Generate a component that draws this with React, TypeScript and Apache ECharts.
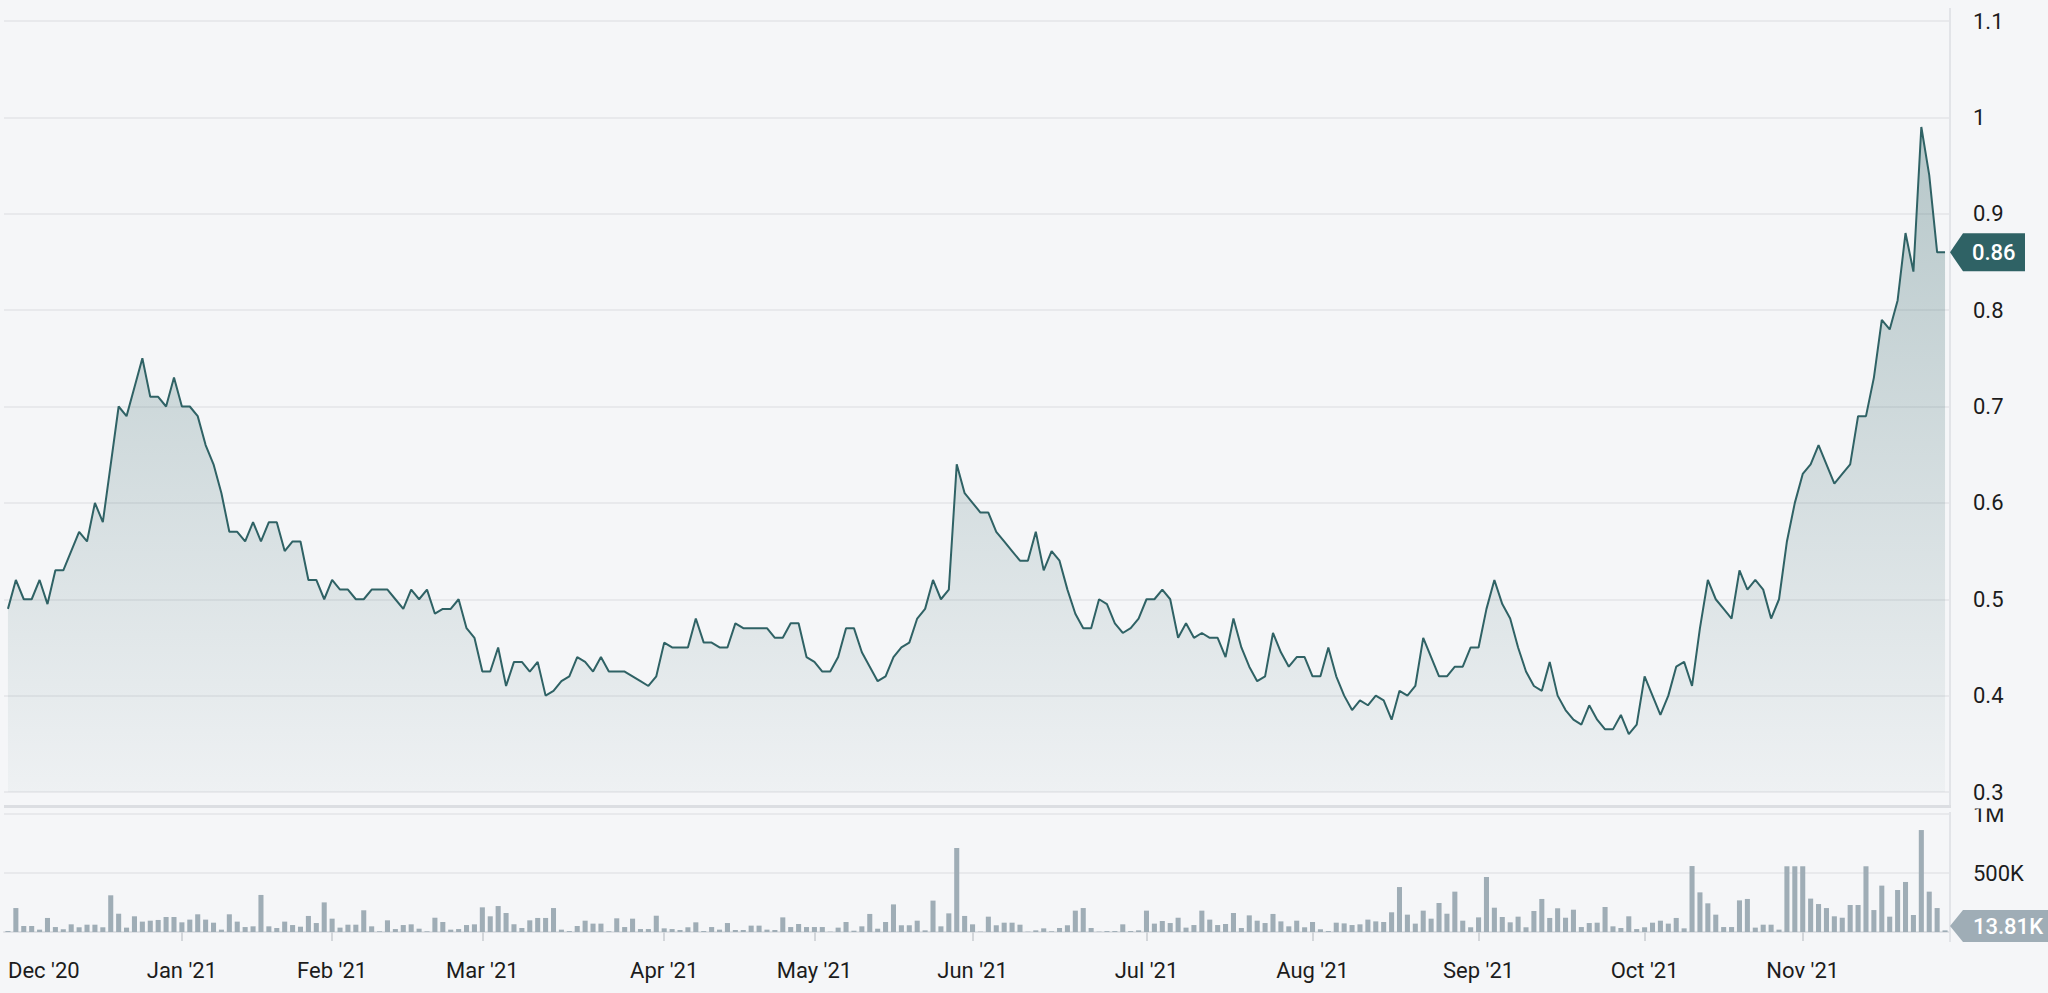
import React, { useEffect, useRef } from "react";
import * as echarts from "echarts";

// ---- data ----
const START_DATE = "2020-12-01";
const END_DATE = "2021-11-26";
const HOLIDAYS = [
  "2020-12-25", "2021-01-01", "2021-01-18", "2021-02-15", "2021-04-02", "2021-04-05",
  "2021-04-26", "2021-05-31", "2021-07-05", "2021-08-02", "2021-09-06", "2021-10-11", "2021-11-25",
];
const MONTH_NAMES = ["Jan", "Feb", "Mar", "Apr", "May", "Jun", "Jul", "Aug", "Sep", "Oct", "Nov", "Dec"];

const PRICE = [
  0.49, 0.52, 0.50, 0.50, 0.52, 0.495, 0.53, 0.53, 0.55, 0.57,
  0.56, 0.60, 0.58, 0.64, 0.70, 0.69, 0.72, 0.75, 0.71, 0.71,
  0.70, 0.73, 0.70, 0.70, 0.69, 0.66, 0.64, 0.61, 0.57, 0.57,
  0.56, 0.58, 0.56, 0.58, 0.58, 0.55, 0.56, 0.56, 0.52, 0.52,
  0.50, 0.52, 0.51, 0.51, 0.50, 0.50, 0.51, 0.51, 0.51, 0.50,
  0.49, 0.51, 0.50, 0.51, 0.485, 0.49, 0.49, 0.50, 0.47, 0.46,
  0.425, 0.425, 0.45, 0.41, 0.435, 0.435, 0.425, 0.435, 0.40, 0.405,
  0.415, 0.42, 0.44, 0.435, 0.425, 0.44, 0.425, 0.425, 0.425, 0.42,
  0.415, 0.41, 0.42, 0.455, 0.45, 0.45, 0.45, 0.48, 0.455, 0.455,
  0.45, 0.45, 0.475, 0.47, 0.47, 0.47, 0.47, 0.46, 0.46, 0.475,
  0.475, 0.44, 0.435, 0.425, 0.425, 0.44, 0.47, 0.47, 0.445, 0.43,
  0.415, 0.42, 0.44, 0.45, 0.455, 0.48, 0.49, 0.52, 0.50, 0.51,
  0.64, 0.61, 0.60, 0.59, 0.59, 0.57, 0.56, 0.55, 0.54, 0.54,
  0.57, 0.53, 0.55, 0.54, 0.51, 0.485, 0.47, 0.47, 0.50, 0.495,
  0.475, 0.465, 0.47, 0.48, 0.50, 0.50, 0.51, 0.50, 0.46, 0.475,
  0.46, 0.465, 0.46, 0.46, 0.44, 0.48, 0.45, 0.43, 0.415, 0.42,
  0.465, 0.445, 0.43, 0.44, 0.44, 0.42, 0.42, 0.45, 0.42, 0.40,
  0.385, 0.395, 0.39, 0.40, 0.395, 0.375, 0.405, 0.40, 0.41, 0.46,
  0.44, 0.42, 0.42, 0.43, 0.43, 0.45, 0.45, 0.49, 0.52, 0.495,
  0.48, 0.45, 0.425, 0.41, 0.405, 0.435, 0.40, 0.385, 0.375, 0.37,
  0.39, 0.375, 0.365, 0.365, 0.38, 0.36, 0.37, 0.42, 0.40, 0.38,
  0.40, 0.43, 0.435, 0.41, 0.47, 0.52, 0.50, 0.49, 0.48, 0.53,
  0.51, 0.52, 0.51, 0.48, 0.50, 0.56, 0.60, 0.63, 0.64, 0.66,
  0.64, 0.62, 0.63, 0.64, 0.69, 0.69, 0.73, 0.79, 0.78, 0.81,
  0.88, 0.84, 0.99, 0.94, 0.86, 0.86,
];

// volume in thousands of shares
const VOLUME_K = [
  8, 203, 51, 51, 20, 119, 42, 23, 65, 40,
  62, 62, 40, 311, 155, 37, 133, 88, 96, 102,
  127, 127, 82, 105, 150, 105, 79, 20, 150, 88,
  42, 48, 314, 48, 34, 88, 59, 45, 136, 76,
  251, 113, 37, 62, 62, 184, 48, 6, 99, 25,
  59, 65, 28, 6, 121, 85, 20, 25, 59, 65,
  209, 133, 220, 161, 65, 34, 99, 119, 119, 203,
  20, 8, 51, 96, 71, 71, 6, 116, 42, 113,
  25, 25, 138, 31, 25, 17, 40, 82, 8, 42,
  20, 76, 17, 17, 54, 54, 20, 17, 124, 42,
  68, 42, 42, 42, 3, 37, 85, 11, 48, 153,
  28, 85, 234, 57, 57, 96, 14, 266, 48, 158,
  712, 136, 65, 3, 130, 57, 79, 79, 62, 3,
  14, 31, 6, 34, 57, 181, 203, 34, 3, 8,
  8, 65, 8, 14, 181, 71, 93, 76, 121, 37,
  59, 181, 105, 59, 68, 161, 34, 141, 96, 76,
  153, 90, 48, 96, 40, 85, 23, 8, 79, 73,
  59, 65, 105, 90, 85, 167, 381, 147, 71, 181,
  113, 246, 155, 342, 96, 40, 124, 466, 206, 127,
  82, 130, 40, 178, 280, 119, 201, 121, 189, 42,
  76, 79, 212, 48, 34, 133, 25, 40, 79, 96,
  71, 119, 31, 559, 336, 243, 147, 42, 42, 268,
  280, 37, 62, 62, 20, 557, 557, 557, 283, 237,
  203, 133, 121, 229, 229, 557, 186, 393, 130, 356,
  424, 144, 864, 342, 203, 13.81,
];

const PRICE_AXIS = { min: 0.3, max: 1.1, interval: 0.1 };
const VOLUME_AXIS = { min: 0, max: 1000000, interval: 500000 };

// ---- style / layout ----
const BG = "#f5f6f8";
const TEAL = "#2f6265";
const VOL_COLOR = "#9fadb6";
const GRID_LINE = "#e3e5e9";
const TEXT = "#1c1c1c";
const FONT = "Roboto";
const GRID_LEFT = 4;
const GRID_RIGHT_EDGE = 1949;
const W = 2048;
const H = 993;

function tradingDays(): string[] {
  const out: string[] = [];
  const d = new Date(START_DATE + "T00:00:00Z");
  const end = new Date(END_DATE + "T00:00:00Z");
  while (d.getTime() <= end.getTime()) {
    const wd = d.getUTCDay();
    const s = d.toISOString().slice(0, 10);
    if (wd !== 0 && wd !== 6 && HOLIDAYS.indexOf(s) < 0) out.push(s);
    d.setUTCDate(d.getUTCDate() + 1);
  }
  return out;
}

const DATES = tradingDays();

function isMonthStart(i: number): boolean {
  return i === 0 || DATES[i].slice(0, 7) !== DATES[i - 1].slice(0, 7);
}

function monthLabel(v: string): string {
  const m = parseInt(v.slice(5, 7), 10) - 1;
  return MONTH_NAMES[m] + " '" + v.slice(2, 4);
}

function volLabel(v: number): string {
  if (v >= 1000000) return v / 1000000 + "M";
  if (v >= 1000) return v / 1000 + "K";
  return String(v);
}

export default function App() {
  const ref = useRef<HTMLDivElement>(null);

  useEffect(() => {
    if (!ref.current) return;
    const chart = echarts.init(ref.current, null, { renderer: "svg" });
    const volume = VOLUME_K.map((v) => v * 1000);
    const lastPrice = PRICE[PRICE.length - 1];
    const lastVol = volume[volume.length - 1];

    const option: any = {
      animation: false,
      backgroundColor: BG,
      textStyle: { fontFamily: FONT },
      grid: [
        { left: GRID_LEFT, right: W - GRID_RIGHT_EDGE, top: 21, height: 771 },
        { left: GRID_LEFT, right: W - GRID_RIGHT_EDGE, top: 814, height: 118 },
      ],
      xAxis: [
        {
          type: "category",
          gridIndex: 0,
          data: DATES,
          boundaryGap: true,
          show: false,
        },
        {
          type: "category",
          gridIndex: 1,
          data: DATES,
          boundaryGap: true,
          offset: 10,
          axisLine: { show: true, lineStyle: { color: "#dfe1e5", width: 2 } },
          axisTick: {
            show: true,
            alignWithLabel: true,
            length: 9,
            interval: (i: number) => i > 0 && isMonthStart(i),
            lineStyle: { color: "#d3d6da", width: 2 },
          },
          axisLabel: {
            interval: (i: number) => isMonthStart(i),
            formatter: (v: string) => monthLabel(v),
            alignMinLabel: "left",
            color: TEXT,
            fontSize: 22,
            fontFamily: FONT,
            margin: 17,
          },
          splitLine: { show: false },
        },
      ],
      yAxis: [
        {
          type: "value",
          gridIndex: 0,
          position: "right",
          min: PRICE_AXIS.min,
          max: PRICE_AXIS.max,
          interval: PRICE_AXIS.interval,
          axisLine: { show: false },
          axisTick: { show: false },
          axisLabel: { color: TEXT, fontSize: 22, fontFamily: FONT, margin: 24 },
          splitLine: { show: true, lineStyle: { color: GRID_LINE, width: 1.5 } },
        },
        {
          type: "value",
          gridIndex: 1,
          position: "right",
          min: VOLUME_AXIS.min,
          max: VOLUME_AXIS.max,
          interval: VOLUME_AXIS.interval,
          axisLine: { show: false },
          axisTick: { show: false },
          axisLabel: {
            color: TEXT,
            fontSize: 22,
            fontFamily: FONT,
            margin: 24,
            showMinLabel: false,
            formatter: (v: number) => volLabel(v),
          },
          splitLine: { show: true, showMinLine: false, lineStyle: { color: GRID_LINE, width: 1.5 } },
        },
      ],
      series: [
        {
          type: "line",
          name: "Price",
          xAxisIndex: 0,
          yAxisIndex: 0,
          data: PRICE,
          symbol: "none",
          lineStyle: { color: TEAL, width: 2 },
          itemStyle: { color: TEAL },
          areaStyle: {
            color: new echarts.graphic.LinearGradient(0, 0, 0, 1, [
              { offset: 0, color: "rgba(47,98,101,0.45)" },
              { offset: 1, color: "rgba(47,98,101,0.05)" },
            ]),
          },
          z: 3,
        },
        {
          type: "bar",
          name: "Volume",
          xAxisIndex: 1,
          yAxisIndex: 1,
          data: volume,
          barWidth: "64%",
          itemStyle: { color: VOL_COLOR },
        },
      ],
    };
    chart.setOption(option);

    const py = chart.convertToPixel({ yAxisIndex: 0 } as any, lastPrice) as number;
    const vyRaw = chart.convertToPixel({ yAxisIndex: 1 } as any, lastVol) as number;
    const volHalf = 16;
    const vy = Math.min(vyRaw, 942 - volHalf);
    const priceHalf = 19;
    const bx = 1950;

    chart.setOption({
      graphic: [
        { type: "line", shape: { x1: bx, y1: 8, x2: bx, y2: 806 }, style: { stroke: "#e2e4e8", lineWidth: 2 }, z: 50 },
        { type: "line", shape: { x1: GRID_LEFT, y1: 806.5, x2: bx + 1, y2: 806.5 }, style: { stroke: "#dcdee2", lineWidth: 3 }, z: 50 },
        { type: "line", shape: { x1: bx, y1: 812, x2: bx, y2: 942 }, style: { stroke: "#e2e4e8", lineWidth: 2 }, z: 50 },
        { type: "rect", shape: { x: 1958, y: 800, width: 80, height: 8.5 }, style: { fill: BG }, z: 60 },
        {
          type: "polygon",
          shape: {
            points: [
              [bx, py],
              [bx + 13, py - priceHalf],
              [2025, py - priceHalf],
              [2025, py + priceHalf],
              [bx + 13, py + priceHalf],
            ],
          },
          style: { fill: TEAL },
          z: 70,
        },
        {
          type: "text",
          x: 1972,
          y: py,
          style: {
            text: String(lastPrice),
            fill: "#ffffff",
            font: "500 22px Roboto",
            textVerticalAlign: "middle",
            verticalAlign: "middle",
          },
          z: 71,
        },
        {
          type: "polygon",
          shape: {
            points: [
              [bx, vy],
              [bx + 13, vy - volHalf],
              [W, vy - volHalf],
              [W, vy + volHalf],
              [bx + 13, vy + volHalf],
            ],
          },
          style: { fill: VOL_COLOR },
          z: 70,
        },
        {
          type: "text",
          x: 1973,
          y: vy,
          style: {
            text: (lastVol / 1000).toFixed(2) + "K",
            fill: "#ffffff",
            font: "500 22px Roboto",
            textVerticalAlign: "middle",
            verticalAlign: "middle",
          },
          z: 71,
        },
      ],
    });

    return () => {
      chart.dispose();
    };
  }, []);

  return (
    <div
      ref={ref}
      style={{ position: "absolute", left: 0, top: 0, width: W, height: H, background: BG }}
    />
  );
}
